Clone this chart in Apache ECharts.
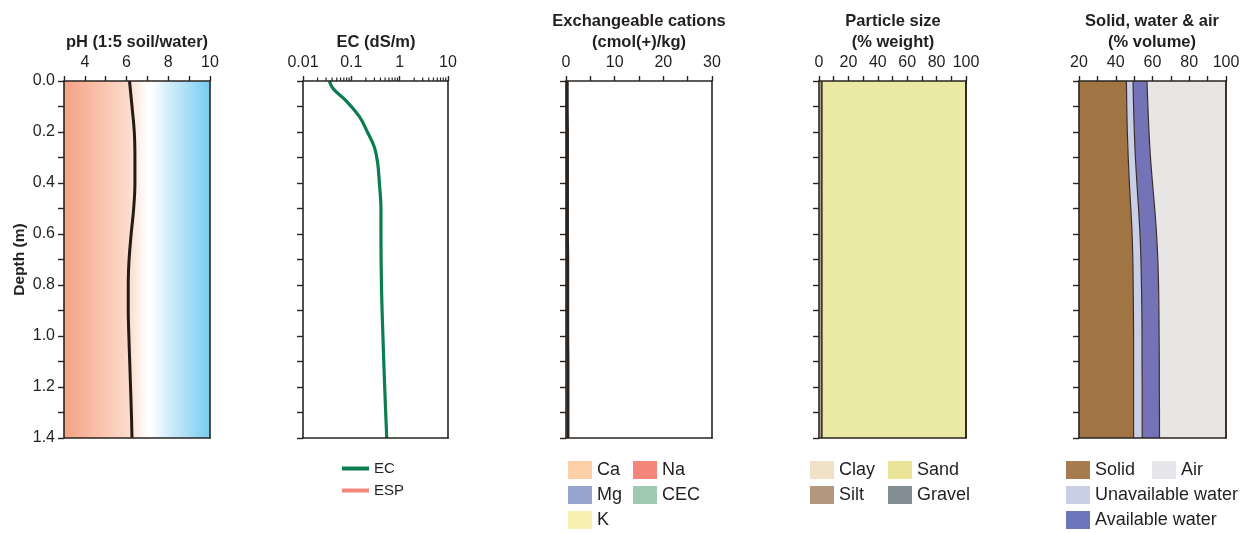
<!DOCTYPE html>
<html><head><meta charset="utf-8">
<script src="https://cdn.jsdelivr.net/npm/echarts@6/dist/echarts.min.js"></script>
<style>html,body{margin:0;padding:0;background:#fff}#c{width:1245px;height:533px}</style>
</head><body><div id="c"></div>
<script>
// ---------- data ----------
const depths = [0, 0.1, 0.2, 0.3, 0.4, 0.5, 0.6, 0.7, 0.8, 0.9, 1.0, 1.1, 1.2, 1.3, 1.4];
const depthLabels = ['0.0','0.1','0.2','0.3','0.4','0.5','0.6','0.7','0.8','0.9','1.0','1.1','1.2','1.3','1.4'];
const phValues = [6.14, 6.26, 6.37, 6.40, 6.40, 6.34, 6.22, 6.12, 6.08, 6.08, 6.11, 6.15, 6.19, 6.23, 6.26];
const ecDepths = [0, 0.03, 0.08, 0.14, 0.2, 0.26, 0.32, 0.4, 0.5, 0.6, 0.8, 1.0, 1.2, 1.4];
const ecValues = [0.035, 0.042, 0.080, 0.147, 0.215, 0.30, 0.35, 0.38, 0.41, 0.41, 0.42, 0.45, 0.49, 0.54];
const ecMajorLabels = ['0.01', '0.1', '1', '10'];
const ecMinorTicks = [0.02,0.03,0.04,0.05,0.06,0.07,0.08,0.09,0.2,0.3,0.4,0.5,0.6,0.7,0.8,0.9,2,3,4,5,6,7,8,9];
const cationTotal = [0.25, 0.25, 0.3, 0.3, 0.3, 0.3, 0.3, 0.35, 0.35, 0.35, 0.35, 0.4, 0.4, 0.4, 0.4];
const clay   = [1.5,1.5,1.5,1.5,1.5,1.5,1.5,1.5,1.5,1.5,1.5,1.5,1.5,1.5,1.5];
const silt   = [0.6,0.6,0.6,0.6,0.6,0.6,0.6,0.6,0.6,0.6,0.6,0.6,0.6,0.6,0.6];
const sand   = [97.9,97.9,97.9,97.9,97.9,97.9,97.9,97.9,97.9,97.9,97.9,97.9,97.9,97.9,97.9];
const gravel = [0,0,0,0,0,0,0,0,0,0,0,0,0,0,0];
const solid            = [45.8, 46.0, 46.3, 46.8, 47.4, 48.2, 48.9, 49.3, 49.5, 49.6, 49.7, 49.7, 49.7, 49.7, 49.7];
const unavailableWater = [3.6, 3.7, 3.8, 3.9, 4.1, 4.2, 4.3, 4.4, 4.5, 4.6, 4.6, 4.6, 4.7, 4.7, 4.7];
const availableWater   = [7.6, 7.8, 8.0, 8.2, 8.5, 8.8, 9.0, 9.2, 9.3, 9.3, 9.3, 9.4, 9.3, 9.4, 9.4];
const air              = [43.0, 42.5, 41.9, 41.1, 40.0, 38.8, 37.8, 37.1, 36.7, 36.5, 36.4, 36.3, 36.3, 36.2, 36.2];

// ---------- style ----------
const AX = '#2a2420', TX = '#231f20';
const FONT = '"Liberation Sans", Arial, Helvetica, sans-serif';
const TOP = 81, H = 357;
const panels = [
  {left: 64,   width: 146, min: 3,  max: 10,  interval: 1,  fmt: v => (v % 2 === 0 ? String(v) : '')},
  {left: 303,  width: 145, min: -2, max: 1,   interval: 1,  fmt: v => ecMajorLabels[Math.round(v) + 2] || ''},
  {left: 566,  width: 146, min: 0,  max: 30,  interval: 5,  fmt: v => (v % 10 === 0 ? String(v) : '')},
  {left: 819,  width: 147, min: 0,  max: 100, interval: 10, fmt: v => (v % 20 === 0 ? String(v) : '')},
  {left: 1079, width: 147, min: 20, max: 100, interval: 10, fmt: v => (v % 20 === 0 ? String(v) : '')}
];
const lineAx = {show: true, onZero: false, lineStyle: {color: AX, width: 1.6}};

const grid = panels.map((p, i) => ({
  left: p.left, top: TOP, width: p.width, height: H,
  show: i === 0, borderWidth: 0,
  backgroundColor: i === 0 ? {type: 'linear', x: 0, y: 0, x2: 1, y2: 0, colorStops: [
    {offset: 0, color: '#f4a283'}, {offset: 0.45, color: '#fcdccd'}, {offset: 0.53, color: '#fff6f1'},
    {offset: 0.575, color: '#ffffff'}, {offset: 0.6, color: '#ffffff'}, {offset: 0.7, color: '#d8effb'},
    {offset: 1, color: '#76ccf0'}]} : 'transparent'
}));

const xAxis = [], yAxis = [];
panels.forEach((p, i) => {
  xAxis.push({gridIndex: i, type: 'value', position: 'top', min: p.min, max: p.max, interval: p.interval,
    axisLine: lineAx, axisTick: {show: true, length: 5, lineStyle: {color: AX, width: 1.4}},
    axisLabel: {formatter: p.fmt, margin: 10, fontSize: 16, color: TX, fontFamily: FONT},
    splitLine: {show: false}, z: 10});
  xAxis.push({gridIndex: i, type: 'value', position: 'bottom', min: p.min, max: p.max,
    axisLine: lineAx, axisTick: {show: false}, axisLabel: {show: false}, splitLine: {show: false}, z: 10});
  const cat = i >= 3;
  const yl = cat ? {
    gridIndex: i, type: 'category', data: depthLabels, boundaryGap: false, inverse: true, position: 'left',
    axisLine: lineAx, axisTick: {show: true, length: 6, interval: 0, lineStyle: {color: AX, width: 1.4}},
    axisLabel: {show: false}, splitLine: {show: false}, z: 10
  } : {
    gridIndex: i, type: 'value', min: 0, max: 1.4, interval: 0.1, inverse: true, position: 'left',
    axisLine: lineAx, axisTick: {show: true, length: 6, lineStyle: {color: AX, width: 1.4}},
    axisLabel: i === 0 ? {show: true, margin: 9, fontSize: 16, color: TX, fontFamily: FONT,
      formatter: v => (Math.round(v * 10) % 2 === 0 ? v.toFixed(1) : '')} : {show: false},
    splitLine: {show: false}, z: 10
  };
  if (i === 0) {
    yl.name = 'Depth (m)'; yl.nameLocation = 'middle'; yl.nameGap = 36; yl.nameRotate = 90;
    yl.nameTextStyle = {fontWeight: 'bold', fontSize: 15.5, color: TX, fontFamily: FONT};
  }
  yAxis.push(yl);
  yAxis.push({gridIndex: i, type: 'value', position: 'right', min: 0, max: 1.4, inverse: true,
    axisLine: lineAx, axisTick: {show: false}, axisLabel: {show: false}, splitLine: {show: false}, z: 10});
});

const edge = {color: '#3a2f28', width: 1.2};
function stackArea(name, data, fill, xi, stack) {
  return {name, type: 'line', xAxisIndex: xi, yAxisIndex: xi, stack, data, smooth: 0.3,
    showSymbol: false, symbol: 'none', lineStyle: edge, itemStyle: {color: fill},
    areaStyle: {color: fill, opacity: 1}, silent: true};
}
function empty(name, color, xi) {
  return {name, type: 'line', xAxisIndex: xi, yAxisIndex: xi, data: [], itemStyle: {color}, lineStyle: {color}};
}

const series = [
  {name: 'pH', type: 'line', xAxisIndex: 0, yAxisIndex: 0, smooth: 0.4, showSymbol: false, symbol: 'none',
    data: depths.map((d, k) => [phValues[k], d]), lineStyle: {color: '#221b16', width: 3}},
  {name: 'EC', type: 'line', xAxisIndex: 2, yAxisIndex: 2, smooth: 0.4, showSymbol: false, symbol: 'none',
    data: ecDepths.map((d, k) => [Math.log10(ecValues[k]), d]), itemStyle: {color: '#0b7d4e'},
    lineStyle: {color: '#0b7d4e', width: 3.2}},
  empty('ESP', '#f4877a', 2),
  {type: 'custom', xAxisIndex: 2, yAxisIndex: 2, clip: false, silent: true, z: 10,
    data: ecMinorTicks.map(v => [Math.log10(v), 0]),
    renderItem: (params, api) => {
      const p = api.coord([api.value(0), api.value(1)]);
      return {type: 'line', shape: {x1: p[0], y1: p[1], x2: p[0], y2: p[1] - 3.5},
        style: {stroke: AX, lineWidth: 1.2}};
    }},
  {name: 'total', type: 'line', xAxisIndex: 4, yAxisIndex: 4, showSymbol: false, symbol: 'none',
    data: depths.map((d, k) => [cationTotal[k], d]), lineStyle: {color: '#2a2420', width: 3}},
  empty('Ca', '#fdd0a8', 4), empty('Na', '#f4867b', 4), empty('Mg', '#98a6cf', 4),
  empty('CEC', '#9dcab1', 4), empty('K', '#f8f0b0', 4),
  stackArea('Clay', clay, '#efe2c6', 6, 'ps'),
  stackArea('Silt', silt, '#b3987d', 6, 'ps'),
  stackArea('Sand', sand, '#eaeaa5', 6, 'ps'),
  stackArea('Gravel', gravel, '#848e95', 6, 'ps'),
  stackArea('Solid', solid, '#a07443', 8, 'swa'),
  stackArea('Unavailable water', unavailableWater, '#c9cfe6', 8, 'swa'),
  stackArea('Available water', availableWater, '#7473b7', 8, 'swa'),
  stackArea('Air', air, '#e8e5e5', 8, 'swa')
];

function legend(left, top, items, w, h, gap, fs) {
  return {left, top, orient: 'vertical', selectedMode: false, icon: 'rect', itemWidth: w, itemHeight: h,
    itemGap: gap, padding: 0, itemStyle: {borderWidth: 0}, lineStyle: {width: 0},
    textStyle: {fontSize: fs, color: TX, fontFamily: FONT},
    data: items.map(([name, color]) => ({name, itemStyle: {color}}))};
}
const legendOpt = [
  legend(342, 461, [['EC', '#0b7d4e'], ['ESP', '#f4877a']], 27, 4, 7, 15),
  legend(568, 461, [['Ca', '#fdd0a8'], ['Mg', '#98a6cf'], ['K', '#f8f0b0']], 24, 18, 7, 18),
  legend(633, 461, [['Na', '#f4867b'], ['CEC', '#9dcab1']], 24, 18, 7, 18),
  legend(810, 461, [['Clay', '#efe2c6'], ['Silt', '#b3987d']], 24, 18, 7, 18),
  legend(888, 461, [['Sand', '#e9e497'], ['Gravel', '#848e95']], 24, 18, 7, 18),
  legend(1066, 461, [['Solid', '#a57b4f'], ['Unavailable water', '#c9d0e6'], ['Available water', '#6b77ba']], 24, 18, 7, 18),
  legend(1152, 461, [['Air', '#e7e6ea']], 24, 18, 7, 18)
];

function title(x, y, text) {
  return {type: 'text', x, y, silent: true, z: 20,
    style: {text, align: 'center', verticalAlign: 'middle', fill: TX,
      fontSize: 16.5, fontWeight: 'bold', fontFamily: FONT}};
}
const graphic = [
  title(137, 42, 'pH (1:5 soil/water)'),
  title(376, 42, 'EC (dS/m)'),
  title(639, 21, 'Exchangeable cations'), title(639, 42, '(cmol(+)/kg)'),
  title(893, 21, 'Particle size'), title(893, 42, '(% weight)'),
  title(1152, 21, 'Solid, water & air'), title(1152, 42, '(% volume)')
];

const chart = echarts.init(document.getElementById('c'), null, {renderer: 'canvas'});
chart.setOption({animation: false, backgroundColor: '#ffffff', grid, xAxis, yAxis, series,
  legend: legendOpt, graphic, textStyle: {fontFamily: FONT}});
</script></body></html>
